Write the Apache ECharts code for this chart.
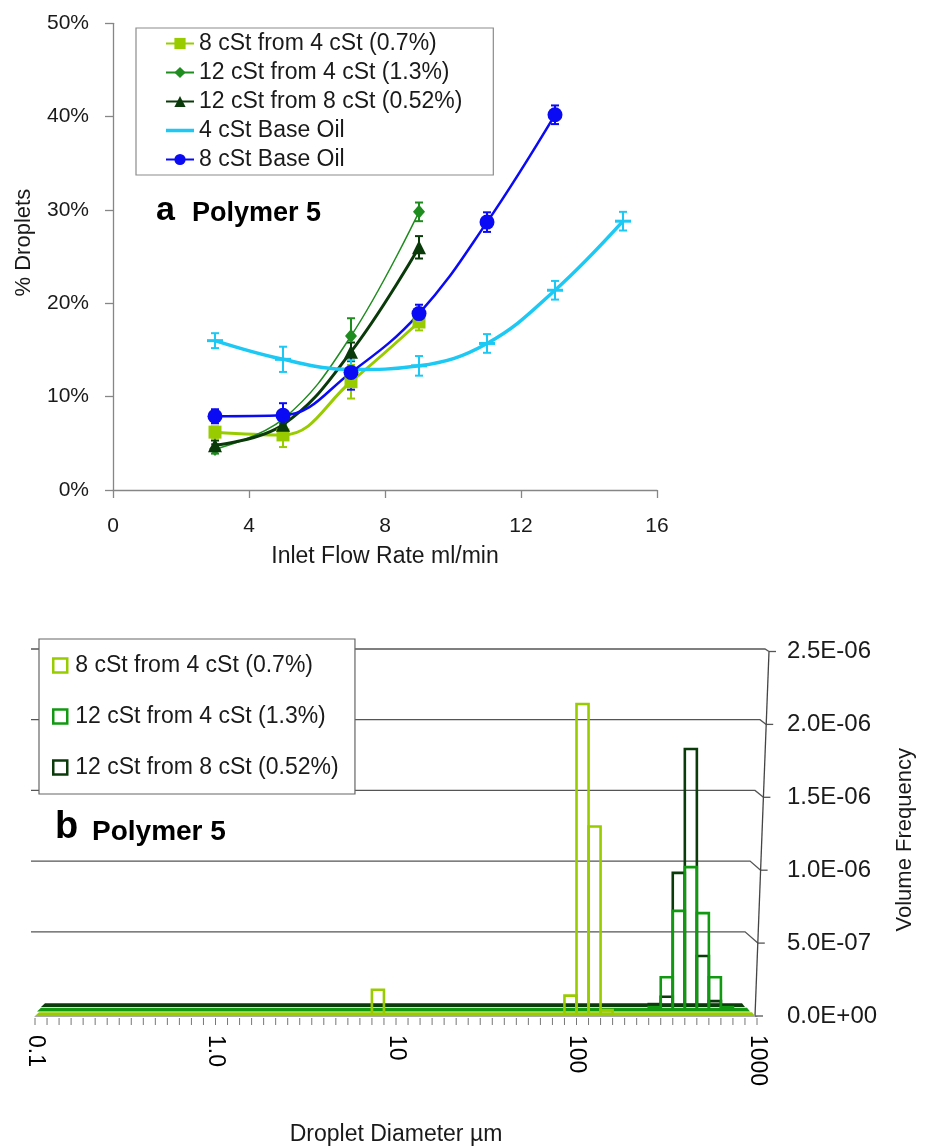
<!DOCTYPE html>
<html><head><meta charset="utf-8">
<script src="https://cdn.jsdelivr.net/npm/echarts@6/dist/echarts.min.js"></script>
<style>html,body{margin:0;padding:0;background:#fff}#c{width:926px;height:1147px}</style>
</head><body><div id="c"></div>
<script>
// ---------- Panel a : % droplets vs inlet flow rate ----------
const namesA = ['8 cSt from 4 cSt (0.7%)', '12 cSt from 4 cSt (1.3%)', '12 cSt from 8 cSt (0.52%)', '4 cSt Base Oil', '8 cSt Base Oil'];
const flow4pts = [3, 5, 7, 9];
const flow7pts = [3, 5, 7, 9, 11, 13, 15];
const flow6pts = [3, 5, 7, 9, 11, 13];
const pct8from4 = [6.2, 5.9, 11.6, 18.0];
const err8from4 = [0.6, 1.3, 1.8, 0.9];
const pct12from4 = [4.4, 7.6, 16.5, 29.8];
const err12from4 = [0.5, 0.5, 1.9, 1.0];
const pct12from8 = [4.8, 7.0, 14.8, 26.0];
const err12from8 = [0.5, 0.6, 1.0, 1.2];
const pct4Base = [16.0, 14.0, 12.9, 13.3, 15.7, 21.4, 28.8];
const err4Base = [0.8, 1.35, 1.0, 1.05, 1.0, 1.0, 1.0];
const pct8Base = [7.9, 8.0, 12.6, 18.9, 28.7, 40.2];
const err8Base = [0.75, 1.3, 1.85, 0.95, 1.05, 1.0];

// ---------- Panel b : volume frequency vs droplet diameter ----------
const namesB = ['8 cSt from 4 cSt (0.7%) ', '12 cSt from 4 cSt (1.3%) ', '12 cSt from 8 cSt (0.52%) '];
const diam8from4 = [7.94, 92.6, 108.0, 125.9, 146.8];
const vf8from4 = [0.18e-6, 0.14e-6, 2.14e-6, 1.30e-6, 0.04e-6];
const diam12from4 = [271.3, 316.2, 368.7, 430.0, 501.2, 584.4, 681.3];
const vf12from4 = [0.03e-6, 0.235e-6, 0.69e-6, 0.99e-6, 0.675e-6, 0.235e-6, 0.03e-6];
const diam12from8 = [271.3, 316.2, 368.7, 430.0, 501.2, 584.4];
const vf12from8 = [0.02e-6, 0.07e-6, 0.92e-6, 1.77e-6, 0.35e-6, 0.04e-6];
const diamTickLabels = ['0.1', '1.0', '10', '100', '1000'];
const vfGridValues = [0.5e-6, 1.0e-6, 1.5e-6, 2.0e-6, 2.5e-6];

// ---------- styles ----------
const FONT = 'Liberation Sans';
const cLime = '#99CC00', cGreen = '#1E8C1E', cDark = '#0A3A0A', cCyan = '#1CC8F4', cBlue = '#0A0AF5';
const bGreen = '#129912', bDark = '#0B3B0B';
const BIN_DECADES = 1 / 15;
const BIN_CLASSES = 60;
const LINE_ICON = 'path://M0,0h0.01v0.01h-0.01zM0,5.2h28v3.6h-28zM27.99,13.99h0.01v0.01h-0.01z';

const zip3 = (xs, ys, es) => xs.map((x, i) => [x, ys[i], es[i]]);
const zip2 = (xs, ys) => xs.map((x, i) => [x, ys[i]]);

function errRender(color, midHalf) {
  return function (params, api) {
    const x = api.value(0), y = api.value(1), e = api.value(2);
    const t = api.coord([x, y + e]), b = api.coord([x, y - e]), c = api.coord([x, y]);
    const st = { stroke: color, lineWidth: 2 };
    const cap = 4;
    const ch = [
      { type: 'line', shape: { x1: t[0], y1: t[1], x2: b[0], y2: b[1] }, style: st },
      { type: 'line', shape: { x1: t[0] - cap, y1: t[1], x2: t[0] + cap, y2: t[1] }, style: st },
      { type: 'line', shape: { x1: b[0] - cap, y1: b[1], x2: b[0] + cap, y2: b[1] }, style: st }
    ];
    if (midHalf) ch.push({ type: 'line', shape: { x1: c[0] - midHalf, y1: c[1], x2: c[0] + midHalf, y2: c[1] },
      style: { stroke: color, lineWidth: 3 } });
    return { type: 'group', children: ch };
  };
}
function errSeries(xs, ys, es, color, midHalf, z) {
  return { type: 'custom', xAxisIndex: 0, yAxisIndex: 0, renderItem: errRender(color, midHalf),
    data: zip3(xs, ys, es), encode: { x: 0, y: 1 }, silent: true, z: z || 1 };
}
function lineSeries(name, xs, ys, color, width, symbol, size) {
  return { type: 'line', name, xAxisIndex: 0, yAxisIndex: 0, data: zip2(xs, ys), smooth: 0.4,
    symbol, symbolSize: size, showSymbol: symbol !== 'none', lineStyle: { color, width },
    itemStyle: { color }, color, z: 3 };
}

function barRender(dy, color) {
  return function (params, api) {
    const d = api.value(0), v = api.value(1);
    const h = BIN_DECADES / 2;
    const pL = api.coord([d * Math.pow(10, -h), v]);
    const pR = api.coord([d * Math.pow(10, h), 0]);
    const yTop = pL[1] + dy, yBase = pR[1] + dy - 2;
    return { type: 'rect', shape: { x: pL[0], y: yTop, width: pR[0] - pL[0], height: yBase - yTop },
      style: { fill: 'none', stroke: color, lineWidth: 2.6 } };
  };
}
function barSeries(name, xs, ys, color, dy) {
  return { type: 'custom', name, xAxisIndex: 1, yAxisIndex: 1, renderItem: barRender(dy, color),
    data: zip2(xs, ys), encode: { x: 0, y: 1 }, itemStyle: { color }, z: 3 };
}

function frameRender(params, api) {
  const ch = [];
  const o = api.coord([0.1, 0]), e = api.coord([1000, 0]);
  const top = api.coord([1000, 2.5e-6]);
  const span = o[1] - top[1];
  const gs = { stroke: '#555', lineWidth: 1.3, fill: null };
  vfGridValues.forEach(v => {
    const yF = api.coord([1000, v])[1];
    const f = (o[1] - yF) / span;
    const yW = yF - (13.5 - 11 * f);
    const xAx = e[0] - 2 + 14 * f;
    const xEnd = xAx - (14.9 - 10.9 * f);
    ch.push({ type: 'polyline', shape: { points: [[o[0] - 4, yW], [xEnd, yW], [xAx, yF]] }, style: gs });
    ch.push({ type: 'line', shape: { x1: xAx, y1: yF, x2: xAx + 7, y2: yF }, style: { stroke: '#555', lineWidth: 1.3 } });
  });
  ch.push({ type: 'line', shape: { x1: e[0] - 2, y1: o[1], x2: top[0] + 12, y2: top[1] }, style: { stroke: '#444', lineWidth: 1.3 } });
  ch.push({ type: 'line', shape: { x1: e[0] - 2, y1: o[1], x2: e[0] + 6, y2: o[1] }, style: { stroke: '#555', lineWidth: 1.3 } });
  for (let k = 0; k <= BIN_CLASSES; k++) {
    const x = api.coord([0.1 * Math.pow(10, k * BIN_DECADES), 0])[0];
    ch.push({ type: 'line', shape: { x1: x, y1: o[1] + 2, x2: x, y2: o[1] + 9 }, style: { stroke: '#777', lineWidth: 1 } });
  }
  const floors = [[bDark, -9, 6, 12], [bGreen, -4.5, 2, 7], [cLime, 0, 0, 2]];
  floors.forEach(([c, dy, li, ri]) => {
    ch.push({ type: 'polygon', shape: { points: [[o[0] + li, o[1] + dy], [o[0] + li + 4, o[1] + dy - 3.8],
      [e[0] - ri - 3, o[1] + dy - 3.8], [e[0] - ri, o[1] + dy]] }, style: { fill: c } });
  });
  return { type: 'group', children: ch };
}

function expFmt(v) {
  if (Math.abs(v) < 1e-12) return '0.0E+00';
  const [m, ex] = v.toExponential(1).split('e');
  const n = parseInt(ex, 10);
  return m + 'E' + (n < 0 ? '-' : '+') + String(Math.abs(n)).padStart(2, '0');
}

const chart = echarts.init(document.getElementById('c'), null, { renderer: 'canvas' });
chart.setOption({
  backgroundColor: '#fff',
  animation: false,
  textStyle: { fontFamily: FONT, color: '#1a1a1a' },
  grid: [
    { left: 113, right: 269, top: 23.3, bottom: 657 },
    { left: 35, right: 169, top: 651.5, bottom: 123 }
  ],
  xAxis: [
    { type: 'value', gridIndex: 0, min: 0, max: 16, interval: 4,
      name: 'Inlet Flow Rate ml/min', nameLocation: 'middle', nameGap: 55,
      nameTextStyle: { fontSize: 23, color: '#1a1a1a', fontFamily: FONT },
      axisLine: { lineStyle: { color: '#868686', width: 1.3 } },
      axisTick: { length: 8, lineStyle: { color: '#868686', width: 1.3 } },
      axisLabel: { fontSize: 21, margin: 26, color: '#1a1a1a' },
      splitLine: { show: false } },
    { type: 'log', gridIndex: 1, min: 0.1, max: 1000, logBase: 10,
      name: 'Droplet Diameter \u00b5m', nameLocation: 'middle', nameGap: 107,
      nameTextStyle: { fontSize: 23, color: '#1a1a1a', fontFamily: FONT },
      axisLine: { lineStyle: { color: '#aaa', width: 1 } },
      axisTick: { show: false },
      axisLabel: { fontSize: 23, rotate: -90, margin: 19, color: '#000',
        formatter: v => diamTickLabels[Math.round(Math.log10(v)) + 1] || '' },
      splitLine: { show: false }, minorSplitLine: { show: false } }
  ],
  yAxis: [
    { type: 'value', gridIndex: 0, min: 0, max: 50, interval: 10,
      name: '% Droplets', nameLocation: 'middle', nameGap: 78,
      nameTextStyle: { fontSize: 22, color: '#1a1a1a', fontFamily: FONT, padding: [0, 0, 0, 28] },
      axisLine: { show: true, lineStyle: { color: '#868686', width: 1.3 } },
      axisTick: { show: true, length: 8, lineStyle: { color: '#868686', width: 1.3 } },
      axisLabel: { fontSize: 21, margin: 24, color: '#1a1a1a', formatter: '{value}%' },
      splitLine: { show: false } },
    { type: 'value', gridIndex: 1, position: 'right', min: 0, max: 2.5e-6, interval: 5e-7,
      name: 'Volume Frequency', nameLocation: 'middle', nameGap: 137, nameRotate: 90,
      nameTextStyle: { fontSize: 22, color: '#1a1a1a', fontFamily: FONT, padding: [0, 12, 0, 0] },
      axisLine: { show: false }, axisTick: { show: false },
      axisLabel: { fontSize: 24, margin: 30, color: '#1a1a1a', formatter: expFmt },
      splitLine: { show: false } }
  ],
  legend: [
    { left: 136, top: 28, orient: 'vertical',
      data: [namesA[0], namesA[1], namesA[2],
        { name: namesA[3], icon: LINE_ICON, itemStyle: { color: cCyan } },
        namesA[4]],
      backgroundColor: '#fff', borderColor: '#8c8c8c', borderWidth: 1.2,
      padding: [4, 31, 4, 29], itemWidth: 28, itemHeight: 14, itemGap: 6,
      textStyle: { fontSize: 23, color: '#1a1a1a', fontFamily: FONT } },
    { left: 39, top: 639, orient: 'vertical',
      data: [
        { name: namesB[0], icon: 'rect', itemStyle: { color: '#fff', borderColor: cLime, borderWidth: 2.5 } },
        { name: namesB[1], icon: 'rect', itemStyle: { color: '#fff', borderColor: bGreen, borderWidth: 2.5 } },
        { name: namesB[2], icon: 'rect', itemStyle: { color: '#fff', borderColor: bDark, borderWidth: 2.5 } }
      ],
      backgroundColor: '#fff', borderColor: '#666', borderWidth: 1.2,
      padding: [15, 10, 15, 13], itemWidth: 14, itemHeight: 14, itemGap: 28,
      textStyle: { fontSize: 23, color: '#1a1a1a', fontFamily: FONT, padding: [0, 0, 0, 3] } }
  ],
  graphic: [
    { type: 'text', left: 156, top: 194, style: { text: 'a', font: 'bold 34px "Liberation Sans"', fill: '#000' } },
    { type: 'text', left: 192, top: 200, style: { text: 'Polymer 5', font: 'bold 27px "Liberation Sans"', fill: '#000' } },
    { type: 'text', left: 55, top: 809, style: { text: 'b', font: 'bold 38px "Liberation Sans"', fill: '#000' } },
    { type: 'text', left: 92, top: 818, style: { text: 'Polymer 5', font: 'bold 28px "Liberation Sans"', fill: '#000' } }
  ],
  series: [
    errSeries(flow4pts, pct8from4, err8from4, cLime),
    errSeries(flow4pts, pct12from4, err12from4, cGreen),
    errSeries(flow4pts, pct12from8, err12from8, cDark),
    errSeries(flow6pts, pct8Base, err8Base, cBlue),
    lineSeries(namesA[0], flow4pts, pct8from4, cLime, 3, 'rect', 13),
    lineSeries(namesA[1], flow4pts, pct12from4, cGreen, 1.5, 'diamond', [12, 14]),
    lineSeries(namesA[2], flow4pts, pct12from8, cDark, 3, 'triangle', 14),
    lineSeries(namesA[3], flow7pts, pct4Base, cCyan, 3.5, 'none', 0),
    errSeries(flow7pts, pct4Base, err4Base, cCyan, 8, 3),
    lineSeries(namesA[4], flow6pts, pct8Base, cBlue, 2.5, 'circle', 15),
    { type: 'custom', xAxisIndex: 1, yAxisIndex: 1, renderItem: frameRender, data: [[1, 0]],
      encode: { x: 0, y: 1 }, silent: true, z: 1 },
    barSeries(namesB[2], diam12from8, vf12from8, bDark, -9),
    barSeries(namesB[1], diam12from4, vf12from4, bGreen, -4.5),
    barSeries(namesB[0], diam8from4, vf8from4, cLime, 0)
  ]
});
</script>
</body></html>
